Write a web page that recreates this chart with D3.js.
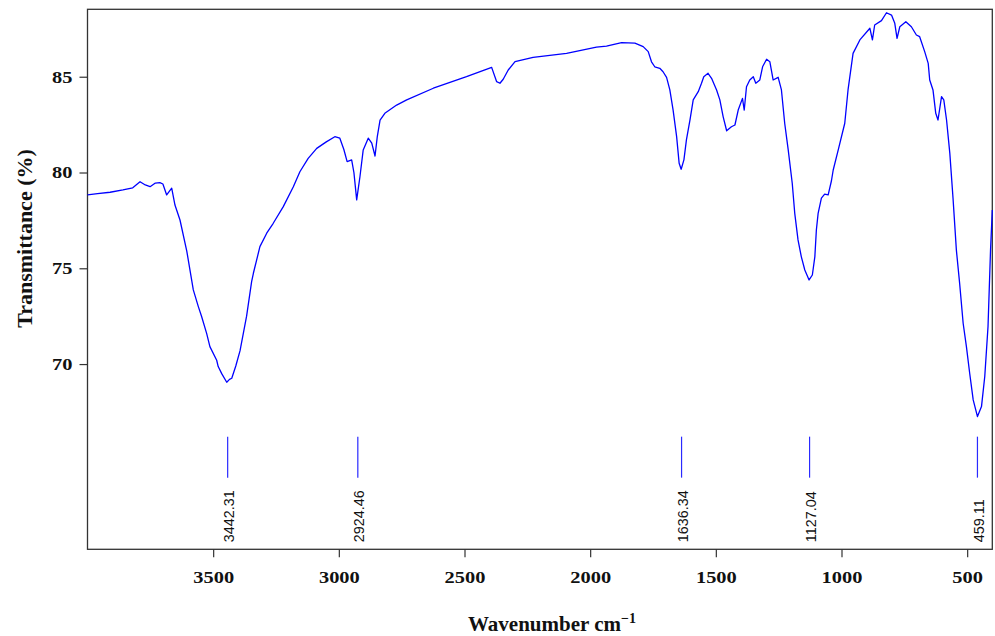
<!DOCTYPE html>
<html>
<head>
<meta charset="utf-8">
<script src="https://cdn.jsdelivr.net/npm/d3@7"></script>
<style>
body { margin: 0; background: #fff; }
</style>
</head>
<body>
<div id="chart"></div>
<script>
"use strict";

// Spectrum (wavenumber in cm-1, transmittance in %)
const wavenumber = [
	4000, 3960, 3910, 3859, 3820, 3791, 3770, 3751, 3730, 3712, 3700, 3685, 3665, 3652, 3632,
	3605, 3579, 3559, 3546, 3526, 3513, 3486, 3480, 3466, 3446, 3435, 3426, 3410, 3393, 3367,
	3347, 3340, 3314, 3287, 3261, 3221, 3181, 3155, 3122, 3088, 3050, 3016, 2996, 2980, 2967,
	2949, 2940, 2929, 2916, 2903, 2883, 2869, 2856, 2847, 2836, 2817, 2770, 2730, 2624, 2492,
	2400, 2392, 2372, 2359, 2346, 2326, 2299, 2227, 2094, 1975, 1935, 1875, 1822, 1789, 1769,
	1756, 1743, 1723, 1710, 1696, 1683, 1670, 1656, 1646, 1638, 1627, 1617, 1603, 1590, 1570,
	1557, 1548, 1531, 1517, 1497, 1484, 1471, 1457, 1438, 1424, 1411, 1394, 1387, 1378, 1365,
	1351, 1341, 1325, 1314, 1298, 1285, 1272, 1252, 1239, 1226, 1212, 1196, 1186, 1173, 1160,
	1146, 1129, 1116, 1106, 1100, 1093, 1080, 1067, 1053, 1040, 1033, 1013, 987, 974, 954,
	927, 887, 877, 868, 841, 821, 801, 788, 779, 768, 744, 722, 702, 689, 669,
	655, 649, 636, 625, 616, 602, 593, 582, 569, 556, 543, 530, 516, 503, 490,
	476, 459, 443, 430, 417, 407, 400
];
const transmittance = [
	78.83, 78.9, 78.97, 79.09, 79.2, 79.52, 79.35, 79.26, 79.45, 79.47, 79.4, 78.83, 79.18, 78.3, 77.52,
	75.9, 73.87, 73.0, 72.48, 71.6, 70.91, 70.2, 69.87, 69.5, 69.05, 69.2, 69.26, 69.9, 70.7, 72.5,
	74.3, 74.74, 76.13, 76.83, 77.35, 78.22, 79.26, 80.04, 80.74, 81.26, 81.6, 81.87, 81.79, 81.2, 80.57,
	80.66, 80.0, 78.57, 79.78, 81.18, 81.79, 81.53, 80.86, 81.87, 82.74, 83.09, 83.52, 83.79, 84.4, 85.0,
	85.45, 85.49, 84.74, 84.66, 84.87, 85.35, 85.79, 86.01, 86.22, 86.54, 86.6, 86.78, 86.75, 86.57, 86.31,
	85.78, 85.52, 85.44, 85.26, 84.97, 84.31, 83.26, 81.87, 80.48, 80.17, 80.66, 81.7, 82.74, 83.79, 84.22,
	84.66, 85.0, 85.18, 84.92, 84.31, 83.79, 82.92, 82.18, 82.39, 82.48, 83.26, 83.87, 83.26, 84.48, 84.83,
	85.0, 84.66, 84.83, 85.52, 85.91, 85.78, 84.83, 84.97, 84.31, 82.57, 81.18, 79.44, 77.87, 76.48, 75.61,
	74.91, 74.39, 74.65, 75.61, 77.0, 77.87, 78.66, 78.87, 78.83, 79.57, 80.13, 81.18, 82.57, 84.31, 86.22,
	86.92, 87.53, 86.92, 87.7, 87.93, 88.34, 88.22, 87.79, 87.0, 87.61, 87.87, 87.61, 87.18, 87.09, 86.31,
	85.7, 84.83, 84.31, 83.09, 82.74, 83.96, 83.79, 82.74, 81.0, 78.6, 75.96, 74.22, 72.13, 70.91, 69.52,
	68.13, 67.26, 67.78, 69.35, 71.96, 75.96, 78.04
];

// Marked peaks
const peakWavenumbers = [3442.31, 2924.46, 1636.34, 1127.04, 459.11];
const peakLabels = ["3442.31", "2924.46", "1636.34", "1127.04", "459.11"];

// Tick values
const xTicks = [3500, 3000, 2500, 2000, 1500, 1000, 500];
const yTicks = [70, 75, 80, 85];

// Size of SVG
const w = 995;
const h = 636;
const margin = {left: 87.5, right: 2.7, top: 9.3, bottom: 86.7};

const svg = d3.select("#chart")
	.append("svg")
	.attr("width", w)
	.attr("height", h);

const x = d3.scaleLinear()
	.domain([4000, 400])
	.range([margin.left, w - margin.right]);

const y = d3.scaleLinear()
	.domain([60.33, 88.52])
	.range([h - margin.bottom, margin.top]);

const serif = "'Liberation Serif', 'Times New Roman', serif";
const sans = "'Liberation Sans', Arial, sans-serif";

// Widen tick labels a little, the picture is stretched sideways
function stretch(sel) {
	sel.each(function() {
		const len = this.getComputedTextLength();
		d3.select(this)
			.attr("textLength", len * 1.2)
			.attr("lengthAdjust", "spacingAndGlyphs");
	});
}

// X axis
const gx = svg.append("g")
	.attr("transform", "translate(0," + (h - margin.bottom) + ")")
	.call(d3.axisBottom(x).tickValues(xTicks).tickSize(8).tickPadding(14).tickFormat(d3.format("d")));
gx.select(".domain").remove();
gx.selectAll(".tick line").attr("stroke", "#333").attr("stroke-width", 1.2);
gx.selectAll(".tick text")
	.style("font-family", serif)
	.style("font-weight", "bold")
	.style("font-size", "17px")
	.attr("fill", "#111")
	.call(stretch);

// Y axis
const gy = svg.append("g")
	.attr("transform", "translate(" + margin.left + ",0)")
	.call(d3.axisLeft(y).tickValues(yTicks).tickSize(8).tickPadding(7));
gy.select(".domain").remove();
gy.selectAll(".tick line").attr("stroke", "#333").attr("stroke-width", 1.2);
gy.selectAll(".tick text")
	.style("font-family", serif)
	.style("font-weight", "bold")
	.style("font-size", "17px")
	.attr("fill", "#111")
	.call(stretch);

// Frame
svg.append("rect")
	.attr("x", margin.left)
	.attr("y", margin.top)
	.attr("width", w - margin.right - margin.left)
	.attr("height", h - margin.bottom - margin.top)
	.attr("fill", "none")
	.attr("stroke", "#333")
	.attr("stroke-width", 1.3);

// Spectrum
const line = d3.line()
	.x(d => x(d[0]))
	.y(d => y(d[1]));

svg.append("path")
	.datum(d3.zip(wavenumber, transmittance))
	.attr("d", line)
	.attr("fill", "none")
	.attr("stroke", "#0000ff")
	.attr("stroke-width", 1.3)
	.attr("stroke-linejoin", "round");

// Peak markers
svg.selectAll(".peak-line")
	.data(peakWavenumbers)
	.enter()
	.append("line")
	.attr("class", "peak-line")
	.attr("x1", d => x(d))
	.attr("x2", d => x(d))
	.attr("y1", y(66.21))
	.attr("y2", y(64.07))
	.attr("stroke", "#2a2aff")
	.attr("stroke-width", 1.2);

svg.selectAll(".peak-label")
	.data(peakWavenumbers)
	.enter()
	.append("text")
	.attr("class", "peak-label")
	.attr("transform", d => "translate(" + (x(d) + 1) + "," + y(60.7) + ") rotate(-90)")
	.attr("dy", "0.36em")
	.attr("text-anchor", "start")
	.style("font-family", sans)
	.style("font-size", "14.4px")
	.attr("fill", "#111")
	.text((d, i) => peakLabels[i]);

// Axis titles
const xTitle = svg.append("text")
	.attr("x", 552)
	.attr("y", 631)
	.attr("text-anchor", "middle")
	.style("font-family", serif)
	.style("font-weight", "bold")
	.style("font-size", "21px")
	.attr("fill", "#111");
xTitle.append("tspan").text("Wavenumber cm");
xTitle.append("tspan")
	.attr("dy", "-8")
	.style("font-size", "14px")
	.text("\u22121");

svg.append("text")
	.attr("transform", "translate(32,238.5) rotate(-90)")
	.attr("text-anchor", "middle")
	.style("font-family", serif)
	.style("font-weight", "bold")
	.style("font-size", "22px")
	.attr("fill", "#111")
	.text("Transmittance (%)");
</script>
</body>
</html>
